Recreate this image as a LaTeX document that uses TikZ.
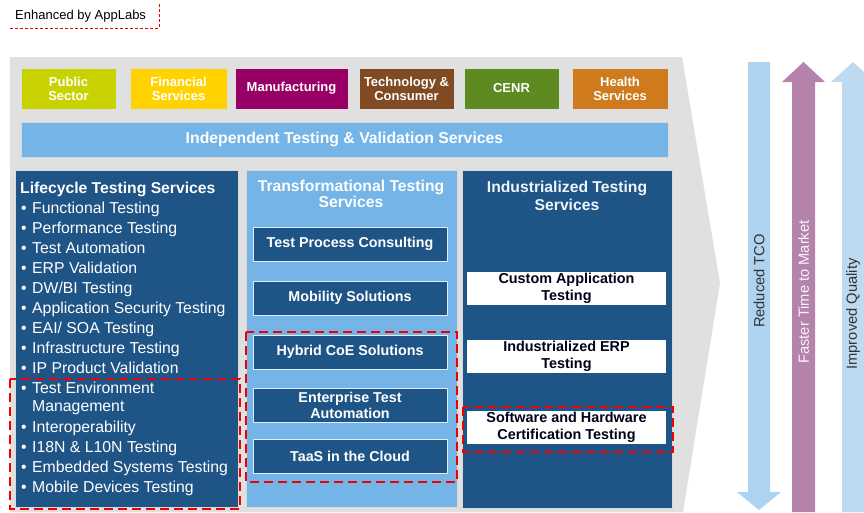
\documentclass[tikz,border=0pt]{standalone}
\usepackage{fontspec}
\setmainfont{Liberation Sans}
\usepackage{tikz}
\definecolor{pubsec}{RGB}{200,210,0}
\definecolor{finserv}{RGB}{255,210,0}
\definecolor{manuf}{RGB}{153,0,102}
\definecolor{techcons}{RGB}{128,75,35}
\definecolor{cenr}{RGB}{94,138,34}
\definecolor{health}{RGB}{208,122,30}
\definecolor{barblue}{RGB}{116,180,230}
\definecolor{darkblue}{RGB}{31,84,134}
\definecolor{greybg}{RGB}{224,224,224}
\definecolor{tcoblue}{RGB}{174,211,240}
\definecolor{ttmpurple}{RGB}{180,130,170}
\definecolor{qualblue}{RGB}{190,218,240}
\definecolor{dashred}{RGB}{240,0,0}

\begin{document}
\begin{tikzpicture}[x=1pt, y=-1pt,
    sector/.style={draw=white!75!gray, line width=0.8pt, inner sep=0pt, text=white,
      minimum height=41pt, align=center, font=\fontsize{13}{14}\selectfont\bfseries},
    column/.style={draw=white!70!gray, line width=0.8pt, inner sep=0pt, minimum width=#1},
    offer/.style={fill=darkblue, draw=white!75!barblue, line width=1pt, inner sep=0pt,
      minimum width=194pt, minimum height=34pt, text=white, align=center,
      font=\fontsize{14.3}{16}\selectfont\bfseries},
    product/.style={fill=white, inner sep=0pt, minimum width=199pt, minimum height=33pt,
      text=black!90!blue, align=center, font=\fontsize{14.4}{16.5}\selectfont\bfseries},
    item/.style={anchor=base west, inner sep=0pt, text=white, align=left,
      font=\fontsize{15.8}{18}\selectfont},
    coltitle/.style={inner sep=0pt, align=center, font=\fontsize{15.7}{16}\selectfont\bfseries},
    reddash/.style={draw=dashred, line width=2.5pt, dash pattern=on 9pt off 5pt},
    benefit/.style={rotate=90, inner sep=0pt, font=\fontsize{14.7}{16}\selectfont}]
  \clip (0,0) rectangle (864,512);

  % Note
  \node[anchor=west, inner sep=0pt, font=\fontsize{13}{14}\selectfont] (note) at (15,16) {Enhanced by AppLabs};
  \draw[dashred, line width=0.8pt, dash pattern=on 3pt off 2pt] (159,4) -- (159,28) -- (10,28);

  % Background
  \fill[greybg] (10,57) -- (682,57) -- (720,283) -- (683,512) -- (10,512) -- cycle;

  % Sectors
  \node[sector, fill=pubsec, minimum width=95pt] (pub) at (68.5,88.5) {Public\\Sector};
  \node[sector, fill=finserv, minimum width=97pt] (fin) at (178.5,88.5) {Financial\\Services};
  \node[sector, fill=manuf, minimum width=113pt] (man) at (291.5,88.5) {Manufacturing};
  \node[sector, fill=techcons, minimum width=95pt] (tech) at (406.5,88.5) {Technology \&\\Consumer};
  \node[sector, fill=cenr, minimum width=95pt] (cenr) at (511.5,88.5) {CENR};
  \node[sector, fill=health, minimum width=96pt] (hlth) at (620,88.5) {Health\\Services};

  % Services bar
  \node[fill=barblue, draw=white!70!gray, line width=0.8pt, inner sep=0pt, minimum width=647pt,
    minimum height=35pt, text=white, font=\fontsize{15.8}{16}\selectfont\bfseries] (itvs) at (344.5,139.5)
    {Independent Testing \& Validation Services};

  % Columns
  \node[column=223pt, fill=darkblue, minimum height=337pt] (lcs) at (126.5,338.5) {};
  \node[column=211pt, fill=barblue, minimum height=337pt] (tts) at (351.5,338.5) {};
  \node[column=210pt, fill=darkblue, minimum height=338pt] (its) at (567,339) {};

  % Lifecycle Testing Services
  \node[coltitle, anchor=base west, text=white] (lctitle) at (20,193.5) {Lifecycle Testing Services};
  \foreach \txt [count=\i] in {Functional Testing, Performance Testing, Test Automation,
      ERP Validation, DW/BI Testing, Application Security Testing, EAI/ SOA Testing,
      Infrastructure Testing, IP Product Validation}
    \node[item] (lc\i) at (21,193.5+20*\i) {\makebox[11pt][l]{\textbullet}\txt};
  \node[item] (lc10) at (21,411.5) {\makebox[11pt][l]{\textbullet}Test Environment\\\hspace*{11pt}Management};
  \foreach \txt [count=\i from 11] in {Interoperability, I18N \& L10N Testing,
      Embedded Systems Testing, Mobile Devices Testing}
    \node[item] (lc\i) at (21,212.5+20*\i) {\makebox[11pt][l]{\textbullet}\txt};

  % Transformational Testing Services
  \node[coltitle, text=white] (tttitle) at (351,194) {Transformational Testing\\Services};
  \node[offer] (tpc) at (350,244) {Test Process Consulting};
  \node[offer] (mob) at (350,298) {Mobility Solutions};
  \node[offer] (hyb) at (350,352) {Hybrid CoE Solutions};
  \node[offer] (eta) at (350,405.5) {Enterprise Test\\Automation};
  \node[offer] (taas) at (350,456) {TaaS in the Cloud};

  % Industrialized Testing Services
  \node[coltitle, text=white!88!barblue, font=\fontsize{15.7}{18}\selectfont\bfseries] (ittitle) at (567,196) {Industrialized Testing\\Services};
  \node[product] (cat) at (566.5,288.5) {Custom Application\\Testing};
  \node[product] (erp) at (566.5,356.5) {Industrialized ERP\\Testing};
  \node[product] (shc) at (566.5,427.5) {Software and Hardware\\Certification Testing};

  % Highlights
  \draw[reddash] (10,379) rectangle (240,509);
  \draw[reddash] (246,332) rectangle (457,482);
  \draw[reddash] (463,407) rectangle (673,452);

  % Benefits
  \fill[tcoblue] (748,62) -- (770,62) -- (770,492) -- (781,492) -- (759,510) -- (737,492) -- (748,492) -- cycle;
  \fill[ttmpurple] (792,512) -- (792,82) -- (782,82) -- (803.5,62) -- (825,82) -- (815,82) -- (815,512) -- cycle;
  \fill[qualblue] (842,512) -- (842,82) -- (831,82) -- (853,62) -- (875,82) -- (864,82) -- (864,512) -- cycle;
  \node[benefit, text=black!80] (tco) at (759,281) {Reduced TCO};
  \node[benefit, text=white!92!ttmpurple] (ttm) at (803.5,292) {Faster Time to Market};
  \node[benefit, text=black!80] (qual) at (853,314) {Improved Quality};
\end{tikzpicture}
\end{document}
